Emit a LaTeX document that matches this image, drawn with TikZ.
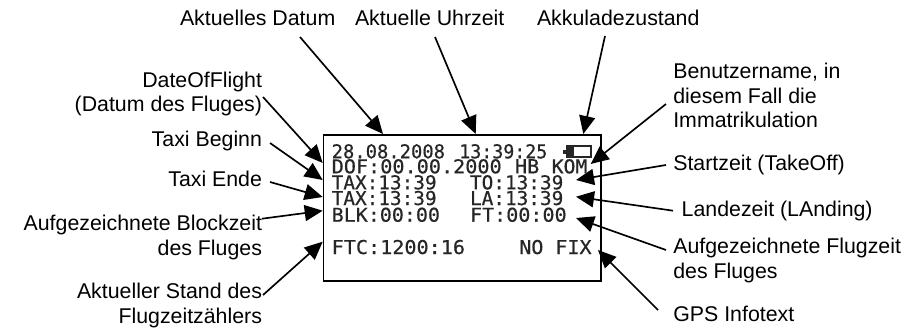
\documentclass[tikz,border=0pt]{standalone}
\usepackage{fontspec}
\usepackage{graphicx}
\setmainfont{Liberation Sans}
\newfontfamily\lcdfont[FakeBold=0.5]{DejaVu Sans Mono}
\usetikzlibrary{arrows.meta}
\newcommand{\lcdtxt}[2]{\resizebox{#1pt}{10.6pt}{\lcdfont #2}}
\tikzset{
  lbl/.style={inner sep=0pt,outer sep=0pt,font=\fontsize{16}{18.4}\selectfont,text=black},
  lblr/.style={lbl,anchor=base east,align=right},
  lbll/.style={lbl,anchor=base west,align=left},
  lcdline/.style={inner sep=0pt,outer sep=0pt,anchor=base west,text=black!85},
  pointer/.style={draw=black,line width=1.25pt,-{Triangle[length=13.5pt,width=12pt]},shorten >=0pt},
  screen/.style={draw=black,line width=1.2pt,inner sep=0pt,outer sep=0pt,anchor=north west,minimum width=208.3pt,minimum height=109.5pt}
}
\begin{document}
\begin{tikzpicture}[x=0.75pt,y=-0.75pt]
\path[use as bounding box,fill=white] (0,0) rectangle (923,328);
% screen
\node[screen] (lcd) at (323.3,135) {};
\node[lcdline] (date) at (331.7,158.3) {\lcdtxt{85}{28.08.2008}};
\node[lcdline] (time) at (459.3,158.3) {\lcdtxt{66}{13:39:25}};
\node[lcdline] (dof) at (331.7,173.3) {\lcdtxt{127.5}{DOF:00.00.2000}};
\node[lcdline] (hb) at (515,173.3) {\lcdtxt{18.2}{HB}};
\node[lcdline] (kom) at (551.7,173.3) {\lcdtxt{26.7}{KOM}};
\node[lcdline] (taxa) at (331.7,189.3) {\lcdtxt{78.7}{TAX:13:39}};
\node[lcdline] (to) at (470,189.3) {\lcdtxt{70}{TO:13:39}};
\node[lcdline] (taxb) at (331.7,205) {\lcdtxt{78.7}{TAX:13:39}};
\node[lcdline] (la) at (470,205) {\lcdtxt{70}{LA:13:39}};
\node[lcdline] (blk) at (331.7,221.7) {\lcdtxt{81.2}{BLK:00:00}};
\node[lcdline] (ft) at (470,221.7) {\lcdtxt{72.5}{FT:00:00}};
\node[lcdline] (ftc) at (331.7,254) {\lcdtxt{100}{FTC:1200:16}};
\node[lcdline] (nofix) at (519.3,254) {\lcdtxt{54.2}{NO FIX}};
% battery icon
\draw[black!85,line width=1pt] (566.5,146) rectangle (591,157);
\fill[black!85] (563,149.5) rectangle (574,153.5);
\fill[black!85] (566.5,146) rectangle (574,157);
% labels
\node[lbll] (datum) at (180,26) {Aktuelles Datum};
\node[lbll] (uhr) at (355,26) {Aktuelle Uhrzeit};
\node[lbll] (akku) at (537,26) {Akkuladezustand};
\node[lblr] (dofl) at (262,111.7) {DateOfFlight\\(Datum des Fluges)};
\node[lblr] (taxib) at (262,146.7) {Taxi Beginn};
\node[lblr] (taxie) at (262,186) {Taxi Ende};
\node[lblr] (block) at (262,255) {Aufgezeichnete Blockzeit\\des Fluges};
\node[lblr] (stand) at (262,323) {Aktueller Stand des\\Flugzeitzählers};
\node[lbll] (user) at (673.3,127.7) {Benutzername, in\\diesem Fall die\\Immatrikulation};
\node[lbll] (start) at (673.3,170.7) {Startzeit (TakeOff)};
\node[lbll] (land) at (681.7,216.7) {Landezeit (LAnding)};
\node[lbll] (flug) at (673.3,278) {Aufgezeichnete Flugzeit\\des Fluges};
\node[lbll] (gps) at (673.3,321.7) {GPS Infotext};
% pointers
\draw[pointer] ([shift={(120,11)}]datum.base west) -- ([shift={(59.7,-1)}]lcd.north west);
\draw[pointer] ([shift={(80,11)}]uhr.base west) -- ([shift={(152.4,-1)}]lcd.north west);
\draw[pointer] ([shift={(68,10)}]akku.base west) -- ([shift={(260,-1)}]lcd.north west);
\draw[pointer] ([shift={(1,-14.7)}]dofl.base east) -- ([shift={(-0.6,28)}]lcd.north west);
\draw[pointer] ([shift={(8,-3.7)}]taxib.base east) -- ([shift={(-0.6,45)}]lcd.north west);
\draw[pointer] ([shift={(8,-4)}]taxie.base east) -- ([shift={(-0.6,62)}]lcd.north west);
\draw[pointer] ([shift={(0,-36.3)}]block.base east) -- ([shift={(-0.6,75.7)}]lcd.north west);
\draw[pointer] ([shift={(1,-28)}]stand.base east) -- ([shift={(-0.6,106.7)}]lcd.north west);
\draw[pointer] ([shift={(-7.3,-23.7)}]user.base west) -- ([shift={(39,-9.3)}]kom.base west);
\draw[pointer] ([shift={(-7.3,-5.7)}]start.base west) -- ([shift={(106,-9.3)}]to.base west);
\draw[pointer] ([shift={(-8.7,-6)}]land.base west) -- ([shift={(106,-8.3)}]la.base west);
\draw[pointer] ([shift={(-7.3,-28)}]flug.base west) -- ([shift={(106,-3.7)}]ft.base west);
\draw[pointer] ([shift={(-15.3,-11.7)}]gps.base west) -- ([shift={(78.7,-4)}]nofix.base west);
\end{tikzpicture}
\end{document}
